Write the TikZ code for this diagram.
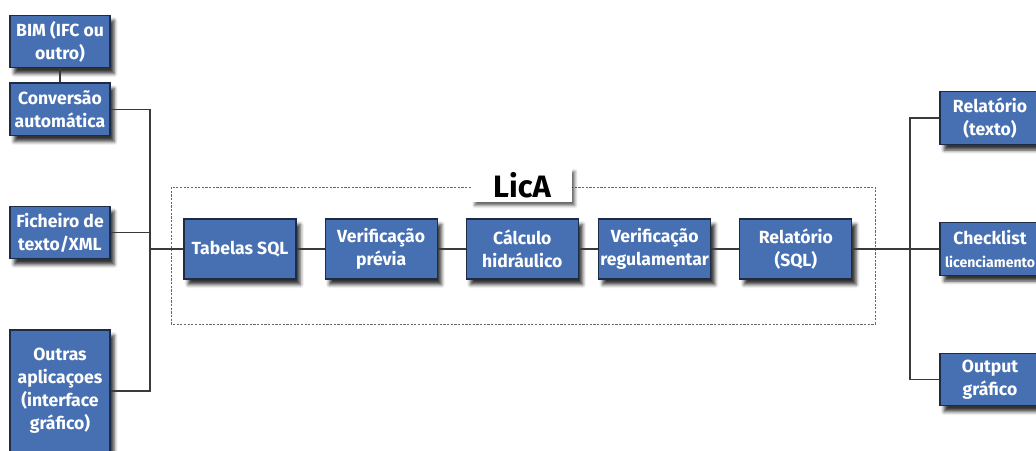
\documentclass[tikz,border=0pt]{standalone}
\usepackage{fontspec}
\setmainfont{Fira Sans}
\usepackage{tikz}
\usetikzlibrary{shadows.blur,positioning}
\definecolor{boxblue}{HTML}{4770B2}
\definecolor{boxline}{HTML}{1E2B45}
\definecolor{wire}{HTML}{3A3A3A}
\tikzset{x=0.025cm,y=-0.025cm,
  block/.style={draw=boxline,line width=0.8pt,fill=boxblue,text=white,
    font=\bfseries\fontsize{12.5}{16.4}\selectfont,align=center,inner sep=0pt,
    minimum width=2.5cm,minimum height=1.32cm,
    blur shadow={shadow xshift=3pt,shadow yshift=-4pt,shadow blur radius=2.5pt,shadow opacity=80}},
  stage/.style={block,minimum width=2.8cm,minimum height=1.5cm},
  wire/.style={draw=wire,line width=0.9pt},
  frame/.style={draw=gray!80!black,line width=0.6pt,dash pattern=on 1.6pt off 1pt},
  title/.style={fill=white,inner sep=0pt,minimum width=2.5cm,minimum height=0.85cm,
    font=\bfseries\fontsize{22}{26}\selectfont,
    blur shadow={shadow xshift=2pt,shadow yshift=-2.5pt,shadow blur radius=2pt,shadow opacity=60}}}

\begin{document}
\begin{tikzpicture}
    \useasboundingbox (0,0) rectangle (1036,450);
    \draw[frame] (171,187) rectangle (875,324);
    \node[title] (lica) at (522,185) {LicA};

    \node[block] (bim) at (60,41.5) {BIM (IFC ou\\outro)};
    \node[block] (conv) [below=0.35cm of bim] {Conversão\\automática};
    \node[block] (fich) at (60,232.5) {Ficheiro de\\texto/XML};
    \node[block,minimum height=3.05cm] (outras) at (60,391) {Outras\\aplicaçoes\\(interface\\gráfico)};

    \node[stage] (tabelas) at (240,249) {Tabelas SQL};
    \node[stage] (previa) [right=0.7cm of tabelas] {Verificação\\prévia};
    \node[stage] (calculo) [right=0.7cm of previa] {Cálculo\\hidráulico};
    \node[stage] (regul) [right=0.48cm of calculo] {Verificação\\regulamentar};
    \node[stage] (relsql) [right=0.7cm of regul] {Relatório\\(SQL)};

    \node[block] (reltxt) at (990,118) {Relatório\\(texto)};
    \node[block] (check) at (990,249) {Checklist\\{\fontsize{10}{12}\selectfont licenciamento}};
    \node[block] (outgraf) at (990,379.5) {Output\\gráfico};

    \coordinate (jl) at (150,249);
    \coordinate (jr) at (910,249);

    \draw[wire] (bim) -- (conv);
    \draw[wire] (conv.east) -| (jl);
    \draw[wire] (outras.east) -| (jl);
    \draw[wire] (fich.east) -- (fich.east -| jl);
    \draw[wire] (jl) -- (tabelas.west);
    \path[wire]
    (tabelas) edge (previa)
    (previa) edge (calculo)
    (calculo) edge (regul)
    (regul) edge (relsql)
    ;
    \draw[wire] (relsql.east) -- (jr) -- (check.west);
    \draw[wire] (jr) |- (reltxt.west);
    \draw[wire] (jr) |- (outgraf.west);
\end{tikzpicture}
\end{document}
